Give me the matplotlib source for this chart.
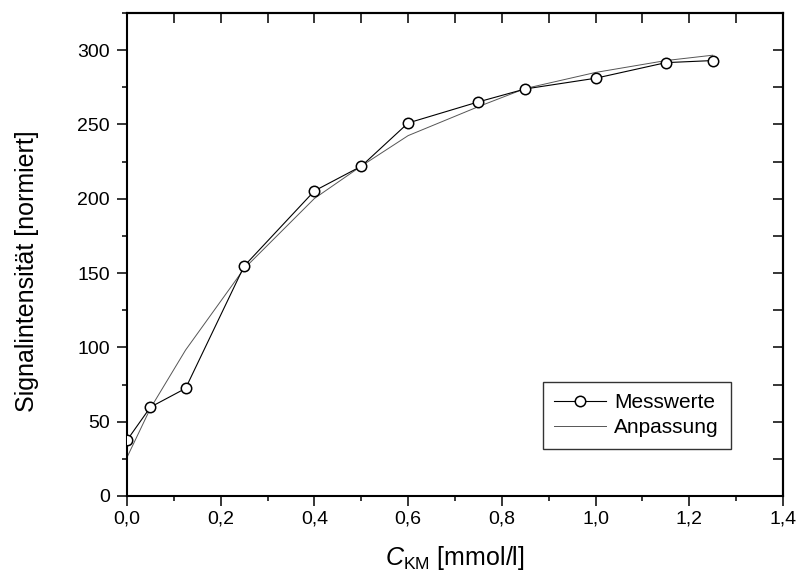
import matplotlib
matplotlib.use("Agg")
import matplotlib.pyplot as plt
from matplotlib.ticker import MultipleLocator, FuncFormatter

plt.rcParams['font.family'] = ['Liberation Sans', 'DejaVu Sans']
plt.rcParams['mathtext.fontset'] = 'custom'
plt.rcParams['mathtext.rm'] = 'Liberation Sans'
plt.rcParams['mathtext.it'] = 'Liberation Sans:italic'

# data
conc = [0.0, 0.05, 0.125, 0.25, 0.4, 0.5, 0.6, 0.75, 0.85, 1.0, 1.15, 1.25]
messwerte = [37.5, 59.8, 72.4, 154.7, 205.3, 221.9, 251.0, 265.2, 273.9, 281.1, 291.6, 293.0]
anpassung = [26.0, 59.0, 98.2, 153.0, 200.2, 222.0, 242.5, 262.0, 274.2, 285.0, 293.0, 296.6]

fig = plt.figure(figsize=(7.98, 5.79), dpi=100)
ax = fig.add_axes([127/798, 1-496/579, 656/798, 483/579])

ax.plot(conc, anpassung, color='#555555', lw=0.7, label='Anpassung', zorder=2)
ax.plot(conc, messwerte, color='black', lw=0.8, marker='o', ms=7.5,
        mfc='white', mec='black', mew=1.1, label='Messwerte', zorder=3)

ax.set_xlim(0, 1.4)
ax.set_ylim(0, 325)
ax.xaxis.set_major_locator(MultipleLocator(0.2))
ax.xaxis.set_minor_locator(MultipleLocator(0.1))
ax.yaxis.set_major_locator(MultipleLocator(50))
ax.yaxis.set_minor_locator(MultipleLocator(25))
ax.xaxis.set_major_formatter(FuncFormatter(lambda v, p: f"{v:.1f}".replace('.', ',')))

for s in ax.spines.values():
    s.set_linewidth(1.5)

ax.tick_params(which='both', direction='out', top=False, right=False, width=1.1, labelsize=14)
ax.tick_params(which='major', length=7.2)
ax.tick_params(which='minor', length=3.6)
ax.tick_params(axis='y', which='major', pad=5)
ax.tick_params(axis='x', which='major', pad=3)

secx = ax.secondary_xaxis('top')
secx.xaxis.set_major_locator(MultipleLocator(0.1))
secx.tick_params(which='both', direction='in', length=7, width=1.1, labeltop=False)
secx.spines['top'].set_linewidth(1.5)
secy = ax.secondary_yaxis('right')
secy.yaxis.set_major_locator(MultipleLocator(25))
secy.tick_params(which='both', direction='in', length=7, width=1.1, labelright=False)
secy.spines['right'].set_linewidth(1.5)

ax.set_xlabel(r'$C_{\mathrm{KM}}$ [mmol/l]', fontsize=18, labelpad=12)
ax.set_ylabel('Signalintensität [normiert]', fontsize=18)
ax.yaxis.set_label_coords(-0.134, 0.466)

h, l = ax.get_legend_handles_labels()
leg = ax.legend(h[::-1], l[::-1], loc='upper right', bbox_to_anchor=(0.92, 0.2366),
                borderaxespad=0, fontsize=15, frameon=True, fancybox=False,
                edgecolor='black', handlelength=2.5, handletextpad=0.4,
                borderpad=0.55, labelspacing=0.3)
leg.get_frame().set_linewidth(1.0)

fig.savefig('out.png', dpi=100)
